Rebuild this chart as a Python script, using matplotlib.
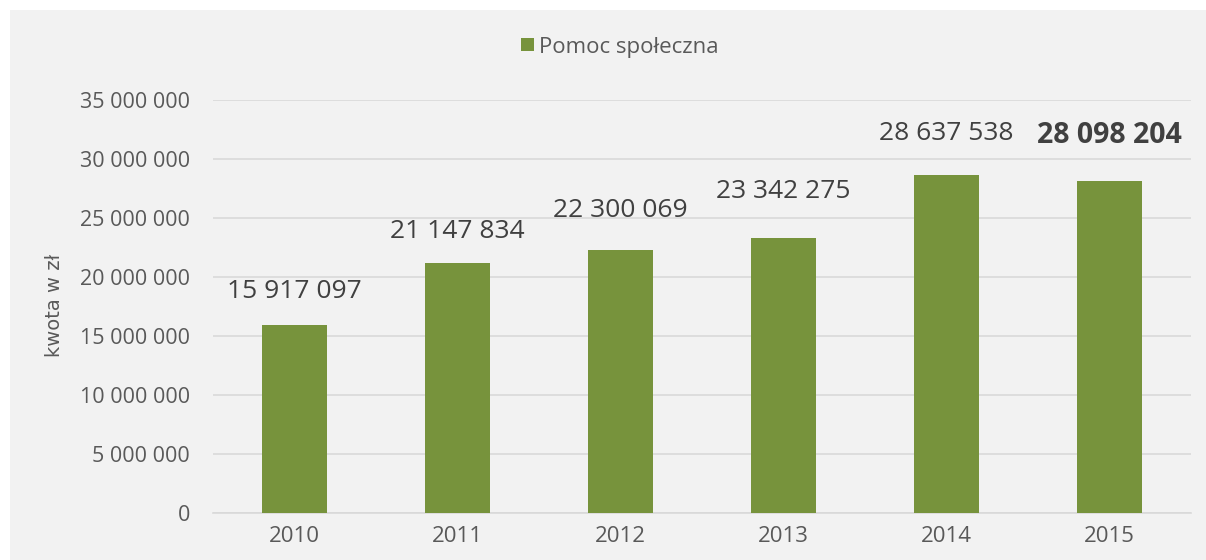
import matplotlib
matplotlib.use("Agg")
import matplotlib.pyplot as plt
from matplotlib.patches import Rectangle
from matplotlib.ticker import FuncFormatter

years = ["2010", "2011", "2012", "2013", "2014", "2015"]
values = [15917097, 21147834, 22300069, 23342275, 28637538, 28098204]
series_name = "Pomoc społeczna"
y_label = "kwota w zł"
y_ticks = [0, 5000000, 10000000, 15000000, 20000000, 25000000, 30000000, 35000000]

# label baseline offsets above bars (points) – layout only
label_offsets = [19.4, 18.4, 23.8, 28.8, 25.2, 27.4]

plt.rcParams['font.family'] = ['Open Sans', 'DejaVu Sans']

fig = plt.figure(figsize=(12.06, 5.6), dpi=100)
fig.patches.append(Rectangle((10 / 1206, 0), 1 - 10 / 1206, 1 - 10 / 560,
                             transform=fig.transFigure, facecolor="#f2f2f2",
                             edgecolor="none", zorder=-10))

ax = fig.add_axes([213 / 1206, 1 - 513 / 560, (1191 - 213) / 1206, (513 - 100) / 560])
ax.set_facecolor("none")

x = list(range(len(years)))
bars = ax.bar(x, values, width=0.4, color="#77933C", label=series_name, zorder=3)

ax.set_xlim(-0.5, len(years) - 0.5)
ax.set_ylim(0, 35000000)
ax.set_yticks(y_ticks)
ax.yaxis.set_major_formatter(FuncFormatter(lambda v, p: f"{int(v):,}".replace(",", " ")))
ax.set_xticks(x)
ax.set_xticklabels(years)

ax.grid(axis="y", color="#d9d9d9", linewidth=1.2, zorder=0)
for s in ["top", "right", "left"]:
    ax.spines[s].set_visible(False)
ax.spines["bottom"].set_color("#d9d9d9")
ax.spines["bottom"].set_linewidth(1.2)
ax.tick_params(axis="both", length=0, colors="#595959")
ax.tick_params(axis="y", pad=16.5, labelsize=15.5)
ax.tick_params(axis="x", pad=9, labelsize=16)

fig.text(55 / 1206, 1 - 305 / 560, y_label, rotation=90, ha="center", va="center",
         fontsize=14, color="#595959", family="DejaVu Sans")

for i, (xi, v) in enumerate(zip(x, values)):
    txt = f"{v:,}".replace(",", " ")
    bold = (i == len(values) - 1)
    ax.annotate(txt, (xi, v), xytext=(0, label_offsets[i]), textcoords="offset points",
                ha="center", va="baseline", fontsize=20.5 if bold else 19, color="#404040",
                fontweight="bold" if bold else "normal")

leg = fig.legend(loc="center", bbox_to_anchor=(620 / 1206, 1 - 47 / 560), frameon=False,
                 fontsize=16, handlelength=0.55, handleheight=0.55, handletextpad=0.25,
                 labelcolor="#595959")

fig.savefig("out.png", dpi=100)
